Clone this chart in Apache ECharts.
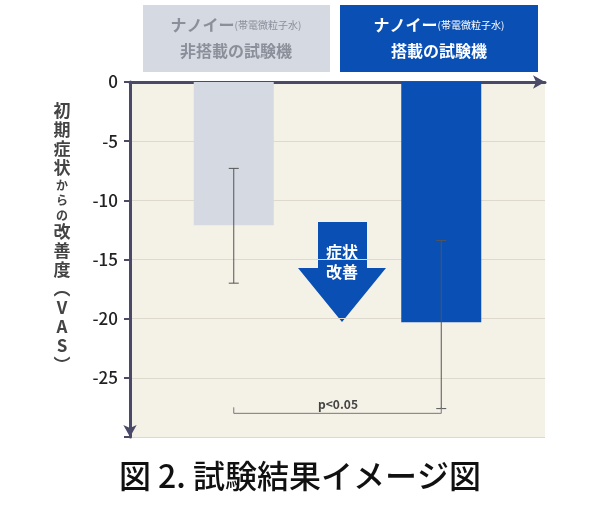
<!DOCTYPE html>
<html>
<head>
<meta charset="utf-8">
<script src="https://cdn.jsdelivr.net/npm/echarts@6/dist/echarts.min.js"></script>
<style>body{margin:0;background:#fff}#main{width:600px;height:507px}</style>
</head>
<body>
<div id="main"></div>
<script type="text/javascript">
	var categories = ['非搭載', '搭載'];
	var values = [-12.1, -20.3];
	var errLow = [-17.0, -27.6];
	var errHigh = [-7.3, -13.4];
	var barColors = ['#d5d9e1', '#0a4fb4'];
	var yTicks = [0, -5, -10, -15, -20, -25];

	var chart = echarts.init(document.getElementById('main'));
	var font = '"Noto Sans CJK JP", sans-serif';

	chart.setOption({
		animation: false,
		grid: {left: 130, right: 55, top: 82, bottom: 70, show: true, backgroundColor: '#f4f1e7', borderWidth: 0},
		xAxis: {
			type: 'category', data: categories, position: 'top',
			axisLine: {lineStyle: {color: '#4a4a68', width: 3}, symbol: ['none', 'arrow'], symbolSize: [10, 12]},
			axisTick: {show: false}, axisLabel: {show: false}
		},
		yAxis: {
			type: 'value', min: -30, max: 0, interval: 5,
			axisLine: {show: true, lineStyle: {color: '#4a4a68', width: 3}, symbol: ['arrow', 'none'], symbolSize: [10, 12]},
			axisTick: {show: true, length: 6, lineStyle: {color: '#4a4a68', width: 2}},
			axisLabel: {color: '#222', fontSize: 17, fontFamily: font, fontWeight: 500, margin: 12,
				formatter: function (v) { return yTicks.indexOf(v) >= 0 ? String(v) : ''; }},
			splitLine: {lineStyle: {color: '#ddd9cc'}}
		},
		graphic: [
			{type: 'rect', shape: {x: 143, y: 5, width: 187, height: 67}, style: {fill: '#d5d9e1'}},
			{type: 'rect', shape: {x: 340, y: 5, width: 198, height: 67}, style: {fill: '#0a4fb4'}},
			{type: 'text', x: 236, y: 38, style: {text: '{a|ナノイー}{b|(帯電微粒子水)}\n{a|非搭載の試験機}', align: 'center', verticalAlign: 'middle',
				rich: {a: {fontSize: 16, fontWeight: 'bold', fill: '#8a8f99', fontFamily: font, lineHeight: 26}, b: {fontSize: 10, fill: '#8a8f99', fontFamily: font}}}},
			{type: 'text', x: 439, y: 38, style: {text: '{a|ナノイー}{b|(帯電微粒子水)}\n{a|搭載の試験機}', align: 'center', verticalAlign: 'middle',
				rich: {a: {fontSize: 16, fontWeight: 'bold', fill: '#fff', fontFamily: font, lineHeight: 26}, b: {fontSize: 10, fill: '#fff', fontFamily: font}}}},
			{type: 'polygon', shape: {points: [[318, 222], [367, 222], [367, 268], [386, 268], [342, 322], [298, 268], [318, 268]]}, style: {fill: '#0a4fb4'}},
			{type: 'text', x: 342, y: 262, style: {text: '症状\n改善', align: 'center', verticalAlign: 'middle', fill: '#fff', fontSize: 16, fontWeight: 'bold', lineHeight: 20, fontFamily: font}},
			{type: 'text', x: 62, y: 238, style: {text: '{a|初\n期\n症\n状}\n{b|か\nら\nの}\n{a|改\n善\n度\n︵\nV\nA\nS\n︶}', align: 'center', verticalAlign: 'middle',
				rich: {a: {fontSize: 17, fontWeight: 'bold', fill: '#444', fontFamily: font, lineHeight: 19}, b: {fontSize: 12, fontWeight: 'bold', fill: '#444', fontFamily: font, lineHeight: 15}}}},
			{type: 'text', x: 300, y: 476, style: {text: '図 2. 試験結果イメージ図', align: 'center', verticalAlign: 'middle', fill: '#111', fontSize: 32, fontWeight: 500, fontFamily: font}},
			{type: 'text', x: 338, y: 404, style: {text: 'p<0.05', align: 'center', verticalAlign: 'middle', fill: '#444', fontSize: 12, fontWeight: 'bold', fontFamily: font}}
		],
		series: [
			{
				type: 'bar', barWidth: 80,
				data: values.map(function (v, i) { return {value: v, itemStyle: {color: barColors[i]}}; })
			},
			{
				type: 'custom', z: 5,
				data: values.map(function (v, i) { return [i, errLow[i], errHigh[i]]; }),
				renderItem: function (params, api) {
					var lo = api.coord([api.value(0), api.value(1)]);
					var hi = api.coord([api.value(0), api.value(2)]);
					var st = {stroke: '#555', lineWidth: 1};
					return {type: 'group', children: [
						{type: 'line', shape: {x1: lo[0], y1: lo[1], x2: hi[0], y2: hi[1]}, style: st},
						{type: 'line', shape: {x1: lo[0] - 5, y1: lo[1], x2: lo[0] + 5, y2: lo[1]}, style: st},
						{type: 'line', shape: {x1: hi[0] - 5, y1: hi[1], x2: hi[0] + 5, y2: hi[1]}, style: st}
					]};
				}
			},
			{
				type: 'custom', z: 5,
				data: [[0, 1, -28]],
				renderItem: function (params, api) {
					var a = api.coord([api.value(0), api.value(2)]);
					var b = api.coord([api.value(1), api.value(2)]);
					var st = {stroke: '#777', lineWidth: 1};
					return {type: 'group', children: [
						{type: 'line', shape: {x1: a[0], y1: a[1], x2: b[0], y2: b[1]}, style: st},
						{type: 'line', shape: {x1: a[0], y1: a[1], x2: a[0], y2: a[1] - 6}, style: st},
						{type: 'line', shape: {x1: b[0], y1: b[1], x2: b[0], y2: b[1] - 6}, style: st}
					]};
				}
			}
		]
	});
</script>
</body>
</html>
